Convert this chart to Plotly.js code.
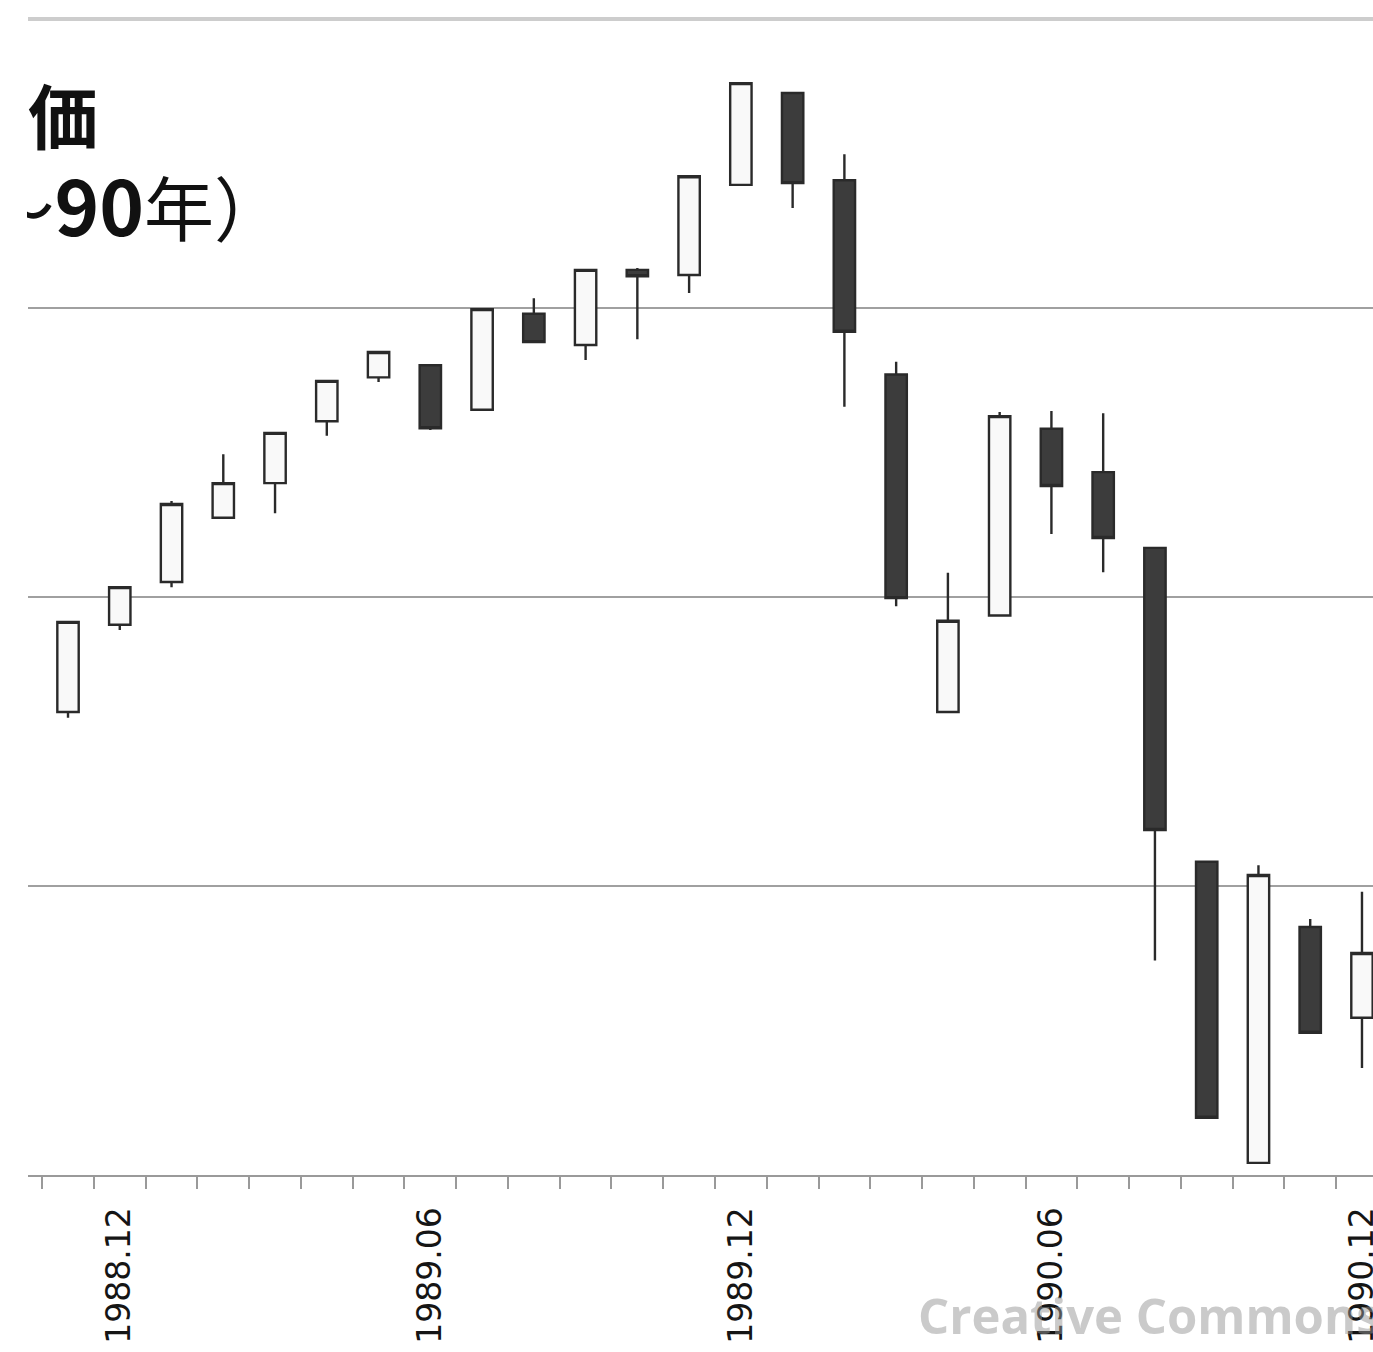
<!DOCTYPE html>
<html>
<head>
<meta charset="utf-8">
<script src="https://cdn.plot.ly/plotly-3.0.1.min.js"></script>
<style>
  html, body { margin: 0; padding: 0; overflow: hidden; background: #fff; }
  #wrap { position: relative; width: 1373px; height: 1352px; }
  #chart { width: 1373px; height: 1352px; }
  #cropmask { position: absolute; left: 0; top: 0; width: 27px; height: 1352px; background: #fff; }
</style>
</head>
<body>
<div id="wrap">
  <div id="chart"></div>
  <div id="cropmask"></div>
</div>
<script>
// Monthly candles of the Nikkei 225
const months = ['1988.11','1988.12','1989.01','1989.02','1989.03','1989.04','1989.05','1989.06',
                '1989.07','1989.08','1989.09','1989.10','1989.11','1989.12','1990.01','1990.02',
                '1990.03','1990.04','1990.05','1990.06','1990.07','1990.08','1990.09','1990.10',
                '1990.11','1990.12'];
const openV  = [28010, 29520, 30260, 31370, 31970, 33040, 33800, 34010,
                33240, 34900, 34360, 35660, 35570, 37130, 38720, 37210,
                33850, 28010, 29680, 32910, 32160, 30850, 25420, 20210,
                24290, 22720];
const highV  = [29590, 30180, 31660, 32470, 32850, 33750, 34260, 34030,
                35000, 35170, 35680, 35690, 37300, 38910, 38740, 37660,
                34070, 30420, 33200, 33220, 33180, 30870, 25430, 25360,
                24430, 24900];
const lowV   = [27910, 29430, 30170, 31350, 31450, 32790, 33720, 32890,
                33220, 34390, 34100, 34460, 35260, 37110, 36730, 33290,
                29840, 28000, 29670, 31090, 30430, 23710, 20970, 20190,
                22440, 21850];
const closeV = [29570, 30170, 31610, 31970, 32840, 33740, 34240, 32920,
                34980, 34410, 35660, 35550, 37280, 38890, 37160, 34590,
                29980, 29590, 33130, 31920, 31020, 25970, 20990, 25190,
                22460, 23840];
const labelMonths = ['1988.12','1989.06','1989.12','1990.06','1990.12'];
const titleLine1 = '日経平均株価';
const titleLine2 = '（1988〜<b><span style="font-size:76px">90</span></b>年）';
const watermark = 'Creative Commons';

const xIdx = months.map((m, i) => i);

const trace = {
  type: 'candlestick',
  x: xIdx,
  open: openV, high: highV, low: lowV, close: closeV,
  whiskerwidth: 0,
  increasing: { line: { color: '#2a2a2a', width: 2.4 }, fillcolor: '#f9f9f9' },
  decreasing: { line: { color: '#2a2a2a', width: 2.4 }, fillcolor: '#3c3c3c' },
  hoverinfo: 'skip',
  showlegend: false
};

const layout = {
  width: 1373, height: 1352,
  margin: { l: 28, r: 0, t: 19, b: 177 },
  paper_bgcolor: '#fff', plot_bgcolor: '#fff',
  boxgap: 0.41,
  showlegend: false,
  xaxis: {
    type: 'linear',
    range: [-0.773, 25.213],
    rangeslider: { visible: false },
    tickvals: labelMonths.map(m => months.indexOf(m)),
    ticktext: labelMonths,
    tickangle: -90,
    ticks: '',
    ticklabeloverflow: 'allow',
    ticklabelstandoff: 17,
    tickfont: { family: 'DejaVu Sans', size: 33, color: '#151515' },
    showgrid: false, zeroline: false,
    showline: true, linecolor: '#9a9a9a', linewidth: 2,
    minor: { tick0: 0.5, dtick: 1, ticks: 'outside', ticklen: 12, tickwidth: 2, tickcolor: '#9a9a9a', showgrid: false },
    fixedrange: true
  },
  yaxis: {
    range: [20000, 40000],
    dtick: 5000,
    showgrid: true, gridcolor: '#a0a0a0', gridwidth: 1.5,
    showticklabels: false, ticks: '',
    zeroline: false, showline: false,
    fixedrange: true
  },
  shapes: [
    { type: 'line', xref: 'paper', yref: 'paper', x0: 0, x1: 1, y0: 1, y1: 1,
      line: { color: '#cdcdcd', width: 4 }, layer: 'above' }
  ],
  annotations: [
    { text: titleLine1, xref: 'paper', yref: 'paper', x: (100 - 28) / 1345, y: 1 - (113 - 19) / 1156,
      xanchor: 'right', yanchor: 'middle', showarrow: false,
      font: { family: 'Noto Sans CJK JP', size: 70, color: '#111', weight: 'bold' } },
    { text: titleLine2, xref: 'paper', yref: 'paper', x: (286 - 28) / 1345, y: 1 - (203 - 19) / 1156,
      xanchor: 'right', yanchor: 'middle', showarrow: false,
      font: { family: 'Noto Sans CJK JP', size: 70, color: '#111' } },
    { text: '<b>' + watermark + '</b>', xref: 'paper', yref: 'paper', x: (916 - 28) / 1345, y: 1 - (1315 - 19) / 1156,
      xanchor: 'left', yanchor: 'middle', showarrow: false,
      font: { family: 'Open Sans', size: 49, color: 'rgba(150,150,150,0.5)' } }
  ]
};

Plotly.newPlot('chart', [trace], layout, { displayModeBar: false, staticPlot: true });
</script>
</body>
</html>
